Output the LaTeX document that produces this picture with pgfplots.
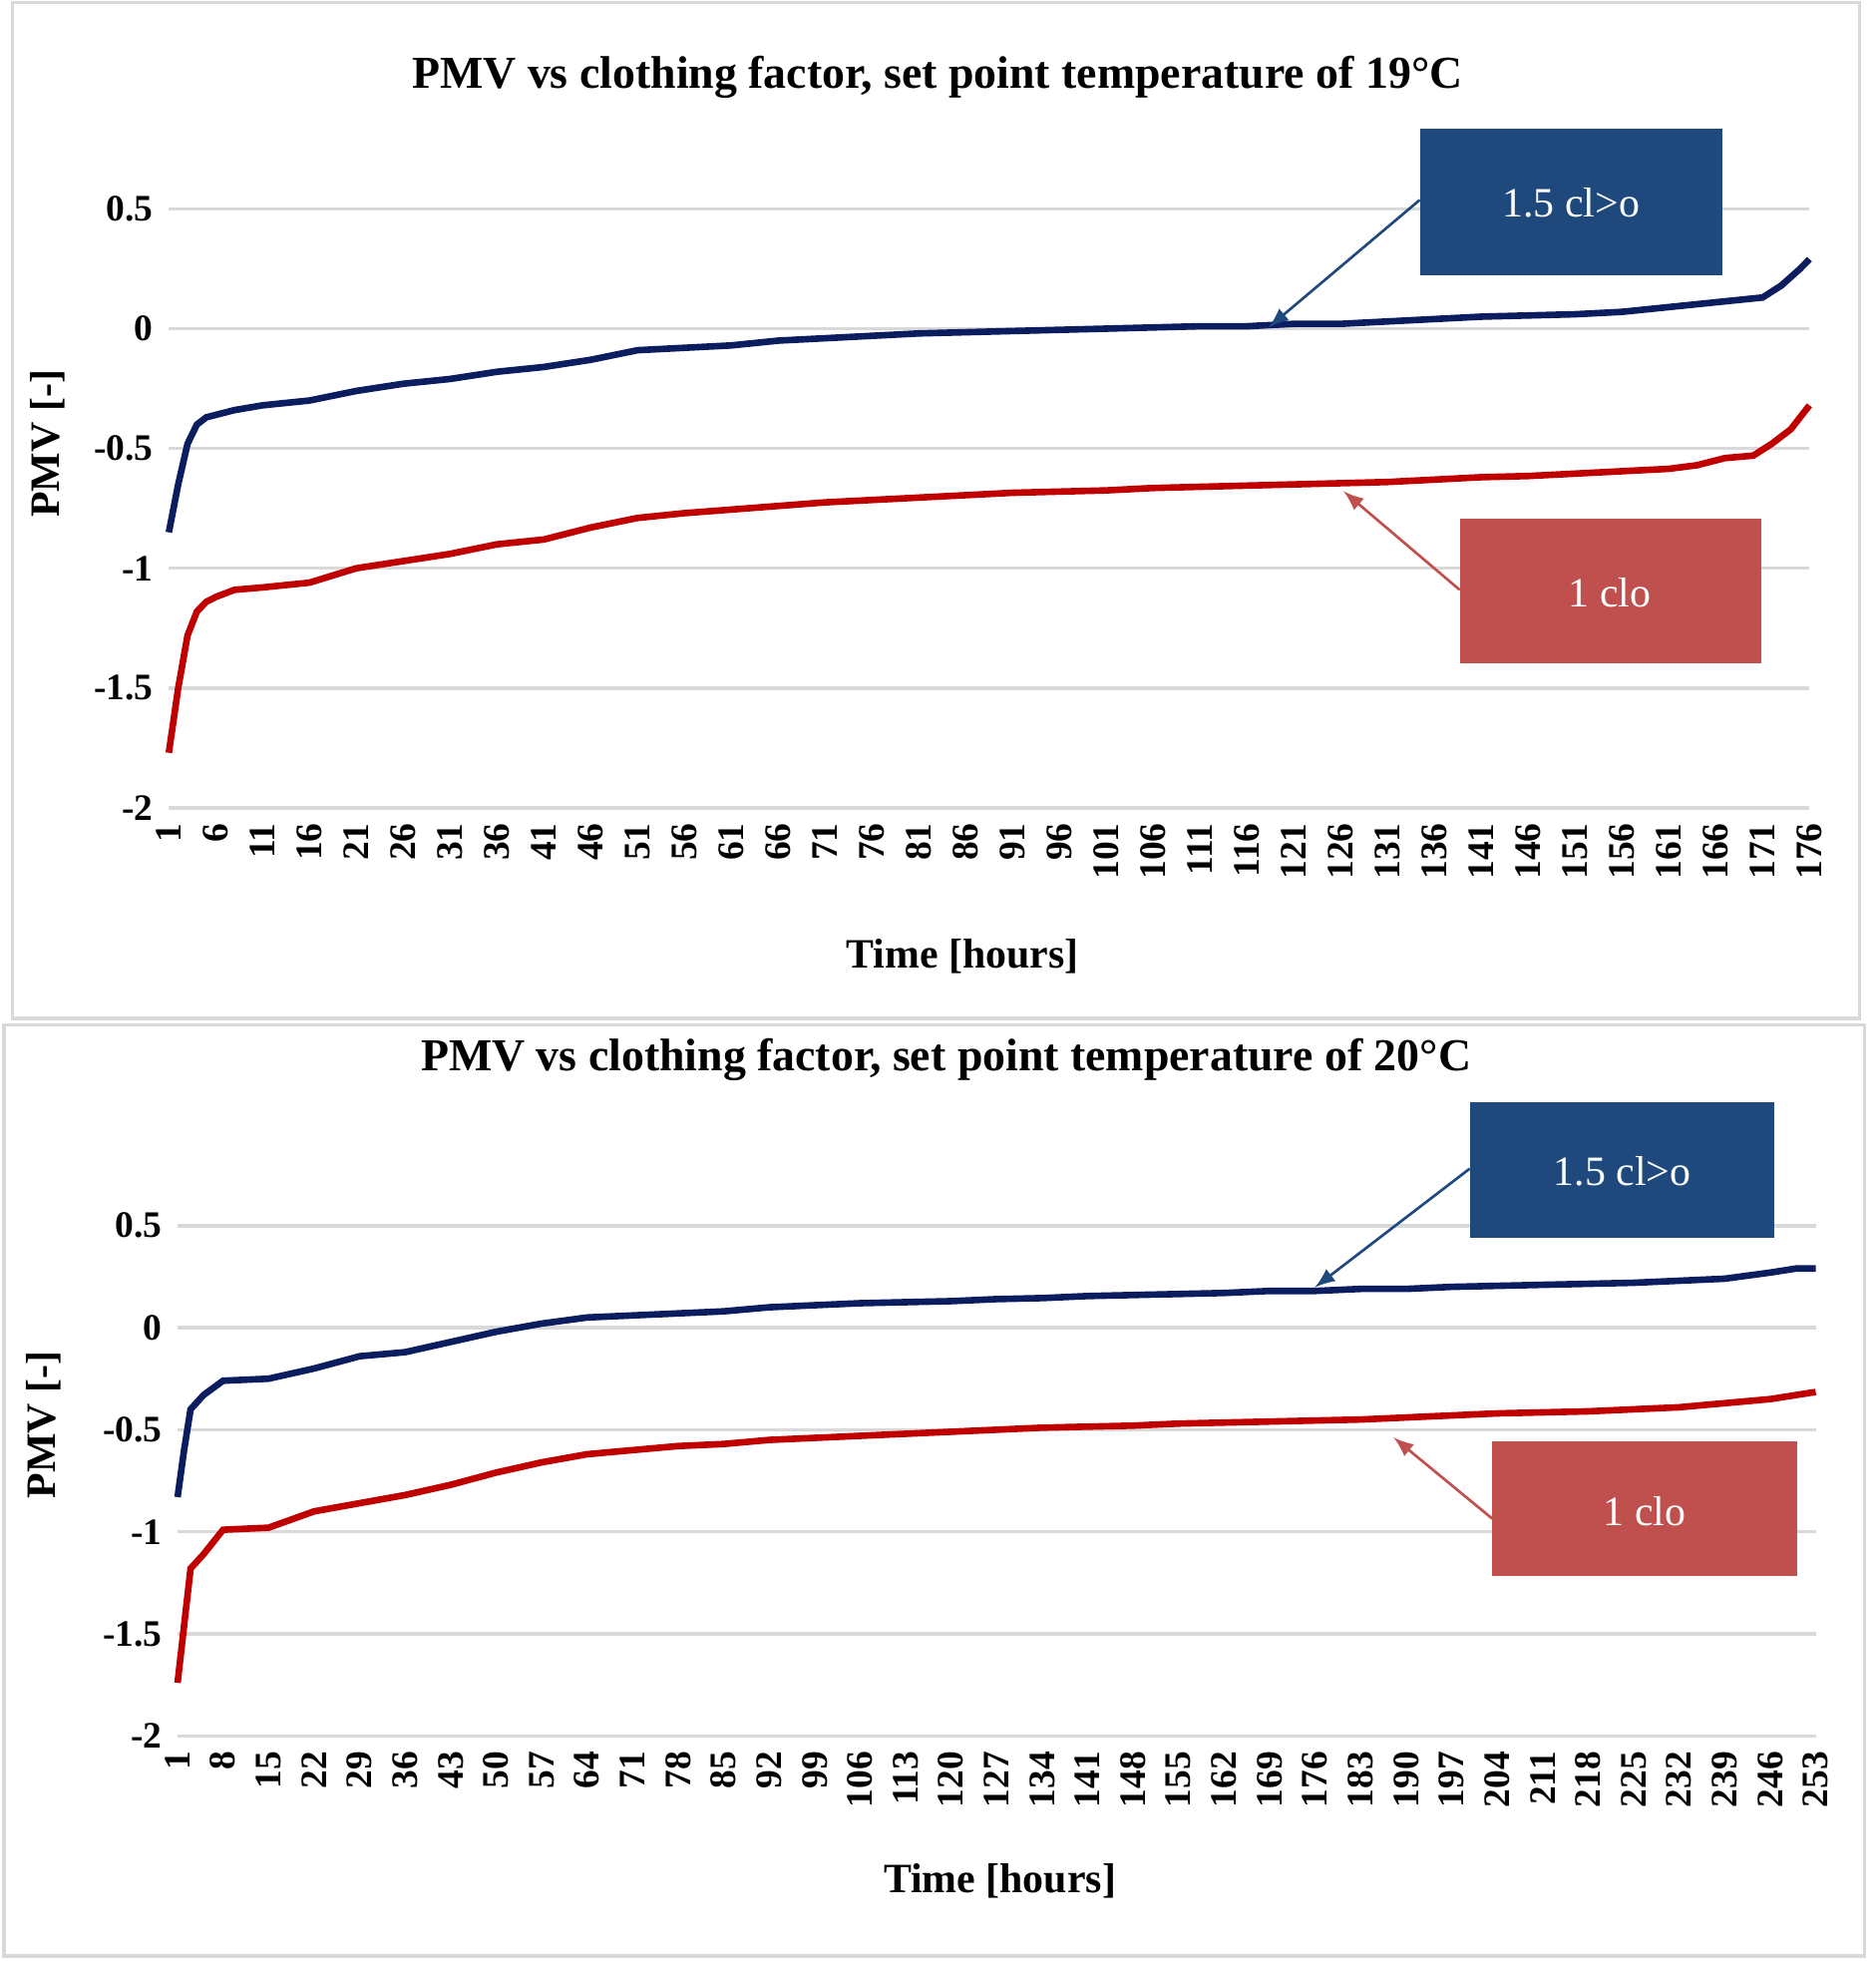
\documentclass[border=0pt]{standalone}
\usepackage{pgfplots}
\pgfplotsset{compat=1.18}
\usepackage{fontspec}
\setmainfont{Liberation Serif}
\definecolor{navy}{HTML}{0B1D5E}
\definecolor{dred}{HTML}{C00000}
\definecolor{boxb}{HTML}{1F497D}
\definecolor{boxr}{HTML}{C0504D}
\pgfplotsset{myax/.style={scale only axis, ymin=-2, ymax=0.5,
 ytick={-2,-1.5,-1,-0.5,0,0.5}, ymajorgrids, grid style={draw=black!15, line width=0.8pt},
 axis line style={draw=none}, major tick length=0pt, tick style={draw=none},
 xtick pos=left, ytick pos=left,
 /pgf/number format/assume math mode=true,
 ticklabel style={font=\fontsize{8.5}{9}\selectfont\bfseries},
 xticklabel style={rotate=90, anchor=east},
 yticklabel style={/pgf/number format/.cd, fixed, use period},
 clip=false}}
\begin{document}
\begin{tikzpicture}
\fill[white] (0,0) rectangle (15cm,15.68cm);
\begin{axis}[myax, at={(1.35cm,9.22cm)}, anchor=south west, width=13.12cm, height=4.79cm,
 xmin=1, xmax=176, xtick={1,6,...,176}]
\addplot[navy, line width=1.5pt] coordinates {(1,-0.85)(2,-0.65)(3,-0.48)(4,-0.40)(5,-0.37)(6,-0.36)(8,-0.34)(11,-0.32)(16,-0.30)(21,-0.26)(26,-0.23)(31,-0.21)(36,-0.18)(41,-0.16)(46,-0.13)(51,-0.09)(56,-0.08)(61,-0.07)(66,-0.05)(71,-0.04)(76,-0.03)(81,-0.02)(86,-0.015)(91,-0.01)(96,-0.005)(101,0)(106,0.005)(111,0.01)(116,0.01)(121,0.02)(126,0.02)(131,0.03)(136,0.04)(141,0.05)(146,0.055)(151,0.06)(156,0.07)(161,0.09)(166,0.11)(171,0.13)(173,0.18)(175,0.25)(176,0.29)};
\addplot[dred, line width=1.5pt] coordinates {(1,-1.77)(2,-1.5)(3,-1.28)(4,-1.18)(5,-1.14)(6,-1.12)(8,-1.09)(11,-1.08)(16,-1.06)(21,-1.0)(26,-0.97)(31,-0.94)(36,-0.90)(41,-0.88)(46,-0.83)(51,-0.79)(56,-0.77)(61,-0.755)(66,-0.74)(71,-0.725)(76,-0.715)(81,-0.705)(86,-0.695)(91,-0.685)(96,-0.68)(101,-0.675)(106,-0.665)(111,-0.66)(116,-0.655)(121,-0.65)(126,-0.645)(131,-0.64)(136,-0.63)(141,-0.62)(146,-0.615)(151,-0.605)(156,-0.595)(161,-0.585)(164,-0.57)(167,-0.54)(170,-0.53)(172,-0.48)(174,-0.42)(176,-0.32)};
\end{axis}
\begin{axis}[myax, at={(1.42cm,1.80cm)}, anchor=south west, width=13.10cm, height=4.08cm,
 xmin=1, xmax=253, xtick={1,8,...,253}]
\addplot[navy, line width=1.5pt] coordinates {(1,-0.83)(2,-0.6)(3,-0.40)(5,-0.33)(8,-0.26)(15,-0.25)(22,-0.20)(29,-0.14)(36,-0.12)(43,-0.07)(50,-0.02)(57,0.02)(64,0.05)(71,0.06)(78,0.07)(85,0.08)(92,0.10)(99,0.11)(106,0.12)(113,0.125)(120,0.13)(127,0.14)(134,0.145)(141,0.155)(148,0.16)(155,0.165)(162,0.17)(169,0.18)(176,0.18)(183,0.19)(190,0.19)(197,0.20)(204,0.205)(211,0.21)(218,0.215)(225,0.22)(232,0.23)(239,0.24)(246,0.27)(250,0.29)(253,0.29)};
\addplot[dred, line width=1.5pt] coordinates {(1,-1.74)(3,-1.18)(5,-1.11)(8,-0.99)(15,-0.98)(22,-0.90)(29,-0.86)(36,-0.82)(43,-0.77)(50,-0.71)(57,-0.66)(64,-0.62)(71,-0.60)(78,-0.58)(85,-0.57)(92,-0.55)(99,-0.54)(106,-0.53)(113,-0.52)(120,-0.51)(127,-0.50)(134,-0.49)(141,-0.485)(148,-0.48)(155,-0.47)(162,-0.465)(169,-0.46)(176,-0.455)(183,-0.45)(190,-0.44)(197,-0.43)(204,-0.42)(211,-0.415)(218,-0.41)(225,-0.40)(232,-0.39)(239,-0.37)(246,-0.35)(253,-0.315)};
\end{axis}
\begin{scope}[x=0.01cm,y=-0.01cm,shift={(0,15.68cm)}]
\draw[black!15, line width=0.8pt] (10,2) rectangle (1488,815);
\draw[black!15, line width=0.8pt] (3,820) rectangle (1492,1565);
\node[font=\fontsize{10.4}{12}\selectfont\bfseries] at (750,62) {PMV vs clothing factor, set point temperature of 19°C};
\node[font=\fontsize{10.4}{12}\selectfont\bfseries] at (757,848) {PMV vs clothing factor, set point temperature of 20°C};
\node[font=\fontsize{9.5}{11}\selectfont\bfseries, rotate=90] at (38,355) {PMV [-]};
\node[font=\fontsize{9.5}{11}\selectfont\bfseries, rotate=90] at (35,1140) {PMV [-]};
\node[font=\fontsize{9.5}{11}\selectfont\bfseries] at (770,765) {Time [hours]};
\node[font=\fontsize{9.5}{11}\selectfont\bfseries] at (800,1505) {Time [hours]};
\fill[boxb] (1136,103) rectangle (1378,220);
\node[white, font=\fontsize{9.5}{11}\selectfont] at (1257,162) {1.5 cl>o};
\draw[boxb, line width=0.6pt, -latex] (1136,160) -- (1015,262);
\fill[boxr] (1168,415) rectangle (1409,531);
\node[white, font=\fontsize{9.5}{11}\selectfont] at (1288,474) {1 clo};
\draw[boxr, line width=0.6pt, -latex] (1168,472) -- (1075,393);
\fill[boxb] (1176,882) rectangle (1420,990);
\node[white, font=\fontsize{9.5}{11}\selectfont] at (1298,937) {1.5 cl>o};
\draw[boxb, line width=0.6pt, -latex] (1176,935) -- (1052,1030);
\fill[boxr] (1194,1153) rectangle (1438,1261);
\node[white, font=\fontsize{9.5}{11}\selectfont] at (1316,1209) {1 clo};
\draw[boxr, line width=0.6pt, -latex] (1194,1215) -- (1115,1150);
\end{scope}
\end{tikzpicture}
\end{document}
